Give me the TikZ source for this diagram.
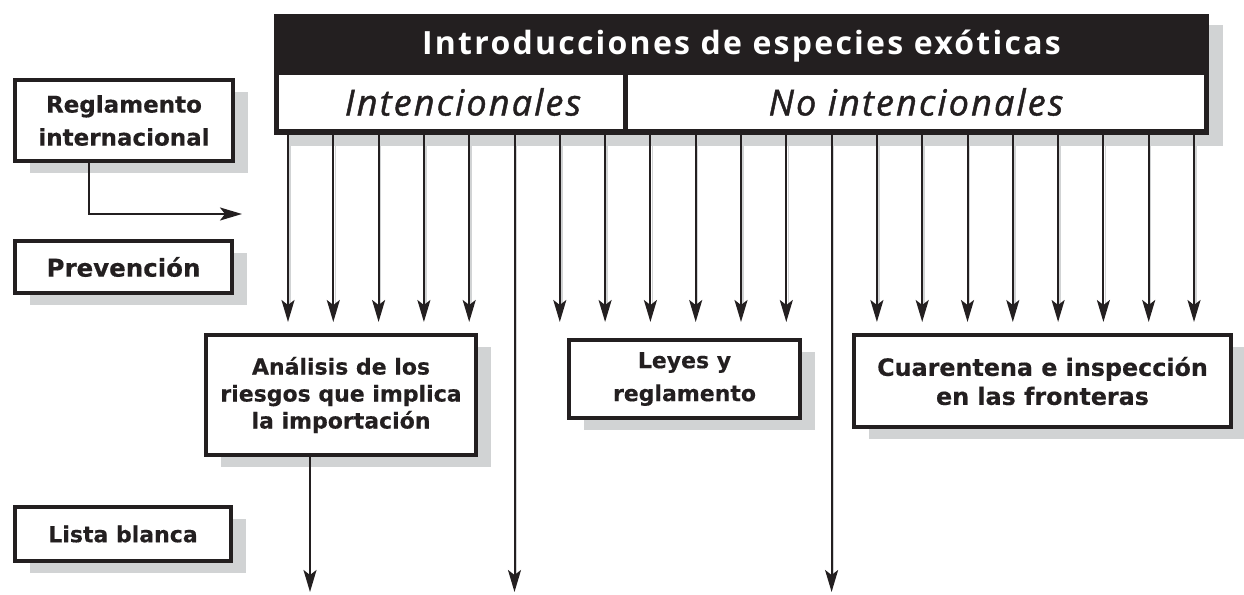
\documentclass[tikz,border=0pt]{standalone}
\usepackage{fontspec}
\setmainfont{DejaVu Sans}[BoldFeatures={FakeBold=0.4}]
\newfontfamily\titular{Open Sans}[LetterSpace=7]
\newfontfamily\cursiva{Open Sans}[LetterSpace=6, ItalicFeatures={FakeBold=1.2}]
\usetikzlibrary{arrows.meta,shadows}
\definecolor{negro}{RGB}{35,31,32}
\definecolor{sombra}{RGB}{209,211,212}

\begin{document}
\begin{tikzpicture}[x=1pt, y=-1pt,
    caja/.style={rectangle, draw=negro, line width=4pt, fill=white, align=center,
        inner sep=0pt, text=negro, font=\fontsize{22}{33}\selectfont\bfseries,
        drop shadow={shadow xshift=15pt, shadow yshift=-12pt, fill=sombra, opacity=1}},
    letra/.style 2 args={font=\fontsize{#1}{#2}\selectfont\bfseries},
    celda/.style={rectangle, fill=white, inner sep=0pt, text=negro,
        minimum height=54pt, font=\cursiva\itshape\fontsize{36}{40}\selectfont},
    flecha/.style={draw=negro, line width=2pt, -{Stealth[length=22pt, width=13pt, inset=5pt]}}]
    \useasboundingbox (0,0) rectangle (1244,594);
    % encabezado
    \node[rectangle, fill=negro, minimum width=935pt, minimum height=121pt,
        drop shadow={shadow xshift=14pt, shadow yshift=-11pt, fill=sombra, opacity=1}]
        (encabezado) at (741.5,74.5) {};
    \node[anchor=base, text=white, font=\titular\bfseries\fontsize{32}{36}\selectfont]
        (titulo) at (741.5,55) {Introducciones de especies exóticas};
    \node[celda, minimum width=344pt] (intenc) at (451,102) {\hspace*{24pt}Intencionales};
    \node[celda, minimum width=576pt] (nointenc) at (916,102) {No intencionales};
    % flechas
    \foreach \i in {0,...,20} {
        \pgfmathsetmacro\fin{(\i==5 || \i==12) ? 592 : 322}
        \coordinate (sal\i) at (288+45.3*\i, 135);
        \coordinate (lle\i) at (288+45.3*\i, \fin);
        \draw[sombra, line width=1.5pt, shorten >=16pt] ([xshift=2pt]sal\i) -- ([xshift=2pt]lle\i);
        \draw[flecha] (sal\i) -- (lle\i);
    }
    % cajas
    \node[caja, letra={23}{33}, minimum width=218pt, minimum height=81pt] (reglamento) at (124,120.5) {Reglamento\\internacional};
    \node[caja, letra={24.5}{30}, minimum width=217pt, minimum height=52pt] (prevencion) at (123.5,267) {Prevención};
    \node[caja, minimum width=216pt, minimum height=54pt] (lista) at (123,534) {Lista blanca};
    \node[caja, letra={22}{27}, minimum width=270pt, minimum height=120pt] (analisis) at (341,395) {Análisis de los\\riesgos que implica\\la importación};
    \node[caja, minimum width=231pt, minimum height=78pt] (leyes) at (684.5,379) {Leyes y\\reglamento};
    \node[caja, letra={23.8}{29}, minimum width=377pt, minimum height=92pt] (cuarentena) at (1042.5,381) {Cuarentena e inspección\\en las fronteras};
    % conectores
    \coordinate (fin) at (242,214);
    \coordinate (finA) at (310,592);
    \draw[flecha] ([xshift=-35pt]reglamento.south) |- (fin);
    \draw[flecha] (analisis.south -| finA) -- (finA);
\end{tikzpicture}
\end{document}
